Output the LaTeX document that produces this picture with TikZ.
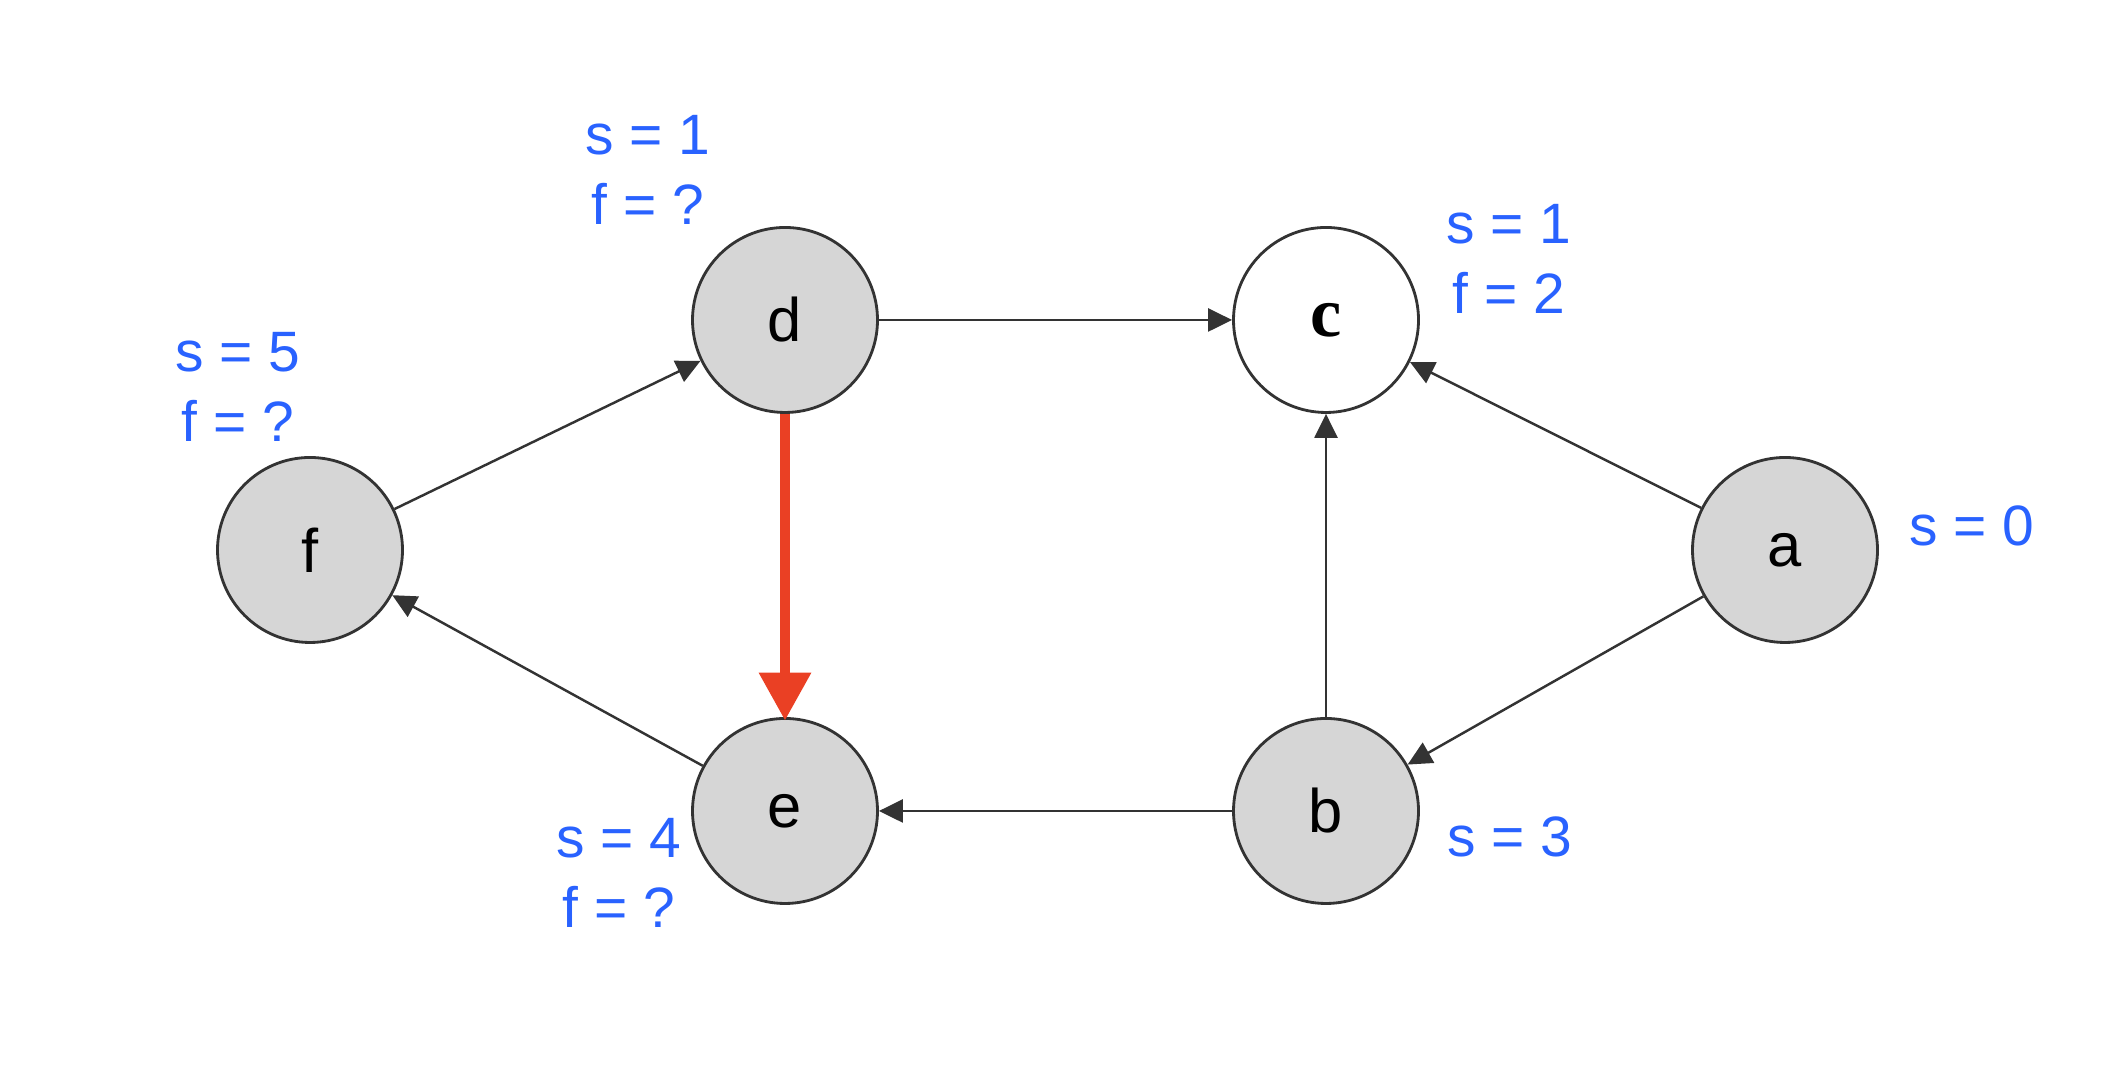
\documentclass[tikz,border=0pt]{standalone}
\usepackage{fontspec}
\setmainfont{Liberation Sans}
\newfontfamily\serifletter{Liberation Serif}
\usetikzlibrary{arrows.meta}
\definecolor{labelblue}{RGB}{41,98,255}
\definecolor{treered}{RGB}{234,64,36}
\definecolor{vertexgray}{RGB}{214,214,214}

\begin{document}
\begin{tikzpicture}[
  vertex/.style={circle,draw=black!80,line width=.8pt,fill=vertexgray,minimum size=1.85cm,inner sep=0pt,font=\fontsize{17.5}{20}\selectfont},
  open/.style={vertex,fill=white},
  info/.style={text=labelblue,align=center,font=\fontsize{16.2}{20}\selectfont},
  edge/.style={-{Triangle[length=.24cm,width=.23cm]},line width=.7pt,black!80},
  tree/.style={-{Triangle[length=.48cm,width=.5cm]},line width=2.8pt,treered,shorten >=-1pt}
]
\useasboundingbox (0,0) rectangle (21.1,10.78);

% vertices of the graph
\node[vertex] (f) at (3.10,5.28) {f};
\node[vertex] (d) at (7.85,7.58) {d};
\node[open] (c) at (13.26,7.58) {\serifletter\bfseries\fontsize{20}{22}\selectfont c};
\node[vertex] (a) at (17.85,5.28) {a};
\node[vertex] (e) at (7.85,2.67) {e};
\node[vertex] (b) at (13.26,2.67) {b};

% discovery / finish times
\node[info] (fd) at (6.48,9.08) {s = 1\\f = ?};
\node[info] (fc) at (15.09,8.19) {s = 1\\f = 2};
\node[info] (ff) at (2.38,6.91) {s = 5\\f = ?};
\node[info] (fe) at (6.19,2.05) {s = 4\\f = ?};
\node[info] (fa) at (19.72,5.52) {s = 0};
\node[info] (fb) at (15.10,2.41) {s = 3};

% edges
\draw[edge] (d) -- (c);
\draw[edge] (a) -- (c);
\draw[edge] (b) -- (c);
\draw[edge] (a) -- (b);
\draw[edge] (b) -- (e);
\draw[edge] (e) -- (f);
\draw[edge] (f) -- (d);
\draw[tree] (d) -- (e);
\end{tikzpicture}
\end{document}
